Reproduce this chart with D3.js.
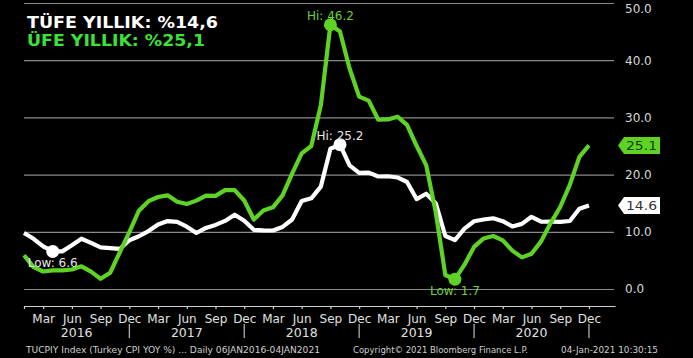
<!DOCTYPE html>
<html><head><meta charset="utf-8">
<script src="https://cdn.jsdelivr.net/npm/d3@7"></script>
<style>
html,body{margin:0;padding:0;background:#000;}
svg{display:block;}
</style></head>
<body>
<svg id="c" width="693" height="358"></svg>
<script>
// ---- data (monthly, Jan 2016 .. Dec 2020) ----
const years = [2016, 2017, 2018, 2019, 2020];
const monthNames = ["Jan","Feb","Mar","Apr","May","Jun","Jul","Aug","Sep","Oct","Nov","Dec"];
const tufe = [ // CPI YoY %
  9.8, 8.78, 7.46, 6.57, 6.58, 7.64, 8.79, 8.05, 7.28, 7.16, 7.00, 8.53,
  9.22, 10.13, 11.29, 11.87, 11.72, 10.90, 9.79, 10.68, 11.20, 11.90, 12.98, 11.92,
  10.35, 10.26, 10.23, 10.85, 12.15, 15.39, 15.85, 17.90, 24.52, 25.24, 21.62, 20.30,
  20.35, 19.67, 19.71, 19.50, 18.71, 15.72, 16.65, 15.01, 9.26, 8.55, 10.56, 11.84,
  12.15, 12.37, 11.86, 10.94, 11.39, 12.62, 11.76, 11.77, 11.75, 11.89, 14.03, 14.60
];
const ufe = [ // PPI YoY %
  5.9, 3.82, 3.06, 3.25, 3.25, 3.41, 3.96, 3.03, 1.78, 2.84, 6.41, 9.94,
  13.69, 15.36, 16.09, 16.37, 15.26, 14.87, 15.45, 16.34, 16.28, 17.28, 17.30, 15.47,
  12.14, 13.71, 14.28, 16.37, 20.16, 23.71, 25.00, 32.13, 46.2, 45.01, 38.54, 33.64,
  32.93, 29.59, 29.64, 30.12, 28.71, 25.04, 21.66, 13.45, 2.45, 1.70, 4.26, 7.36,
  8.84, 9.26, 8.50, 6.71, 5.53, 6.17, 8.33, 11.53, 14.33, 18.20, 23.11, 25.1
];
const yTicks = [0, 10, 20, 30, 40, 50];
const quarterMonths = [2, 5, 8, 11]; // Mar Jun Sep Dec
const titleWhite = "TÜFE YILLIK: %14,6";
const titleGreen = "ÜFE YILLIK: %25,1";
const footerLeft = "TUCPIY Index (Turkey CPI YOY %) ...  Daily 06JAN2016-04JAN2021";
const footerMid = "Copyright© 2021 Bloomberg Finance L.P.";
const footerRight = "04-Jan-2021 10:30:15";

// ---- setup ----
const svg = d3.select("#c");
const W = 693, H = 358;
svg.append("rect").attr("width", W).attr("height", H).attr("fill", "#000");

const GREEN = "#5fd325";
const WHITE = "#ffffff";
const FONT = "DejaVu Sans, Verdana, sans-serif";

const plotL = 24, plotR = 615;
const x = d3.scaleLinear().domain([0, 61.72]).range([plotL, plotR]);
const y = d3.scaleLinear().domain([0, 50]).range([289, 3]);

// gridlines + right labels
const gy = svg.append("g").attr("transform", `translate(${plotL},0)`)
  .call(d3.axisRight(y).tickValues(yTicks).tickSize(590).tickFormat(""));
gy.select(".domain").remove();
gy.selectAll(".tick line").attr("stroke", "#8a8a8a").attr("stroke-width", 1.2);

svg.append("g").selectAll("text").data(yTicks).join("text")
  .attr("x", 625).attr("y", d => Math.max(y(d), 9))
  .attr("dy", "0.36em")
  .attr("fill", "#d8d8d8").attr("font-family", FONT).attr("font-size", 12)
  .text(d => d.toFixed(1));

// x axis
const tickIdx = [0];
years.forEach((yr, k) => quarterMonths.forEach(m => tickIdx.push(k * 12 + m)));
const gx = svg.append("g").attr("transform", "translate(0,306)")
  .call(d3.axisBottom(x).tickValues(tickIdx).tickSize(3).tickSizeOuter(0)
    .tickPadding(3)
    .tickFormat(i => i === 0 ? "" : monthNames[i % 12]));
gx.select(".domain").attr("stroke", "#cfcfcf").attr("stroke-width", 1.2);
gx.selectAll(".tick line").attr("stroke", "#cfcfcf").attr("stroke-width", 1.2);
gx.selectAll(".tick text").attr("fill", "#e0e0e0").attr("font-family", FONT)
  .attr("font-size", 12).attr("dy", "0.95em");

// year labels + separators
years.forEach((yr, k) => {
  const x0 = k === 0 ? 0 : k * 12 - 1;
  const x1 = k * 12 + 11;
  svg.append("text").attr("x", (x(x0) + x(x1)) / 2).attr("y", 337)
    .attr("text-anchor", "middle").attr("fill", "#e0e0e0")
    .attr("font-family", FONT).attr("font-size", 12.5).text(yr);
  svg.append("line").attr("x1", x(x1)).attr("x2", x(x1))
    .attr("y1", 324).attr("y2", 338).attr("stroke", "#bdbdbd").attr("stroke-width", 1.2);
});

// lines
const line = d3.line().x((d, i) => x(i)).y(d => y(d)).curve(d3.curveLinear);
svg.append("path").datum(tufe).attr("d", line).attr("fill", "none")
  .attr("stroke", WHITE).attr("stroke-width", 4.2).attr("stroke-linejoin", "round");
svg.append("path").datum(ufe).attr("d", line).attr("fill", "none")
  .attr("stroke", GREEN).attr("stroke-width", 4.2).attr("stroke-linejoin", "round");

// hi / low annotations
function annotate(arr, color, textColor) {
  const hiI = d3.maxIndex(arr), loI = d3.minIndex(arr);
  [[hiI, "Hi", -9], [loI, "Low", 11]].forEach(([i, lab, off]) => {
    svg.append("circle").attr("cx", x(i)).attr("cy", y(arr[i])).attr("r", 6.5).attr("fill", color);
    svg.append("text").attr("x", x(i)).attr("y", y(arr[i]) + off).attr("dy", "0.36em")
      .attr("text-anchor", "middle").attr("fill", textColor)
      .attr("font-family", FONT).attr("font-size", 12)
      .text(`${lab}: ${arr[i].toFixed(1)}`);
  });
}
annotate(tufe, WHITE, "#e6e6e6");
annotate(ufe, GREEN, "#6fcf3a");

// last value tags
function tag(v, fill, txt) {
  const yc = y(v);
  const tip = 618, bx = 624, ex = 660, hh = 8.5;
  svg.append("path")
    .attr("d", `M${tip},${yc} L${bx},${yc - hh} L${ex},${yc - hh} L${ex},${yc + hh} L${bx},${yc + hh} Z`)
    .attr("fill", fill);
  svg.append("text").attr("x", 626).attr("y", yc).attr("dy", "0.37em")
    .attr("fill", txt).attr("font-family", FONT).attr("font-size", 13)
    .attr("textLength", 31).attr("lengthAdjust", "spacingAndGlyphs")
    .text(v.toFixed(1));
}
tag(ufe[ufe.length - 1], GREEN, "#123d00");
tag(tufe[tufe.length - 1], WHITE, "#333333");

// titles
svg.append("text").attr("x", 27).attr("y", 28).attr("fill", "#ffffff")
  .attr("font-family", FONT).attr("font-weight", "bold").attr("font-size", 15)
  .attr("textLength", 191).attr("lengthAdjust", "spacingAndGlyphs").text(titleWhite);
svg.append("text").attr("x", 27).attr("y", 45.5).attr("fill", "#3ee03a")
  .attr("font-family", FONT).attr("font-weight", "bold").attr("font-size", 15)
  .attr("textLength", 178).attr("lengthAdjust", "spacingAndGlyphs").text(titleGreen);

// footer
const foot = [[footerLeft, 26, 294], [footerMid, 353, 175], [footerRight, 561, 97]];
foot.forEach(([t, fx, len]) => {
  svg.append("text").attr("x", fx).attr("y", 353).attr("fill", "#cfcfcf")
    .attr("font-family", FONT).attr("font-size", 9.5)
    .attr("textLength", len).attr("lengthAdjust", "spacingAndGlyphs").text(t);
});
</script>
</body></html>
